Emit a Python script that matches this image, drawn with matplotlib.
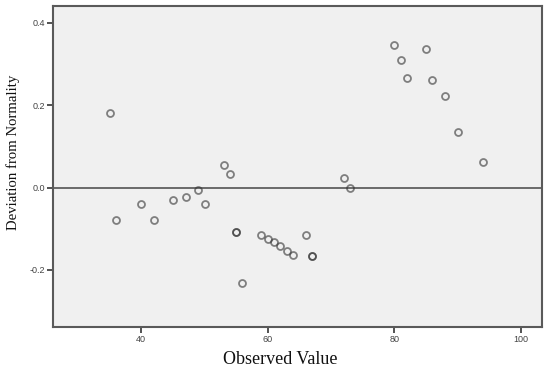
import matplotlib
matplotlib.use("Agg")
import matplotlib.pyplot as plt

# Observed values and deviation from normality (duplicates at 55 and 67)
observed = [35, 36, 40, 42, 45, 47, 49, 50, 53, 54, 55, 55, 56, 59, 60, 61, 62,
            63, 64, 66, 67, 67, 72, 73, 80, 81, 82, 85, 86, 88, 90, 94]
deviation = [0.182, -0.079, -0.040, -0.079, -0.029, -0.023, -0.005, -0.040,
             0.055, 0.032, -0.107, -0.107, -0.231, -0.115, -0.124, -0.133,
             -0.143, -0.153, -0.164, -0.114, -0.167, -0.167, 0.024, 0.000,
             0.347, 0.310, 0.265, 0.335, 0.260, 0.222, 0.134, 0.061]

x_ticks = [40, 60, 80, 100]
y_ticks = [-0.2, 0.0, 0.2, 0.4]
y_tick_labels = ["-0.2", "0.0", "0.2", "0.4"]

fig = plt.figure(figsize=(5.5, 3.74), dpi=100)
ax = fig.add_axes([0.097, 0.126, 0.889, 0.858])
ax.set_facecolor("#f0f0f0")

ax.axhline(0.0, color="#6a6a6a", linewidth=1.4, zorder=1)
ax.plot(observed, deviation, linestyle="none", marker="o", markersize=5,
        markerfacecolor="none", markeredgecolor=(0.2, 0.2, 0.2, 0.6),
        markeredgewidth=1.3, zorder=3)

ax.set_xlim(26.1, 103.4)
ax.set_ylim(-0.338, 0.4405)
ax.set_xticks(x_ticks)
ax.set_yticks(y_ticks)
ax.set_yticklabels(y_tick_labels)

for sp in ax.spines.values():
    sp.set_color("#5a5a5a")
    sp.set_linewidth(1.5)

ax.tick_params(direction="out", length=4, width=1.3, color="#444444",
               labelsize=6.5, labelcolor="#444444", pad=2)
for lab in ax.get_xticklabels() + ax.get_yticklabels():
    lab.set_family("Liberation Sans")

ax.set_xlabel("Observed Value", fontsize=13, family="Liberation Serif",
              color="#111111")
ax.xaxis.label.set_va("baseline")
ax.xaxis.set_label_coords(0.465, -0.1153)

ax.set_ylabel("Deviation from Normality", fontsize=10.6, family="Liberation Serif",
              color="#111111")
ax.yaxis.label.set_va("center")
ax.yaxis.set_label_coords(-0.0814, 0.545)

fig.savefig("out.png", dpi=100)
